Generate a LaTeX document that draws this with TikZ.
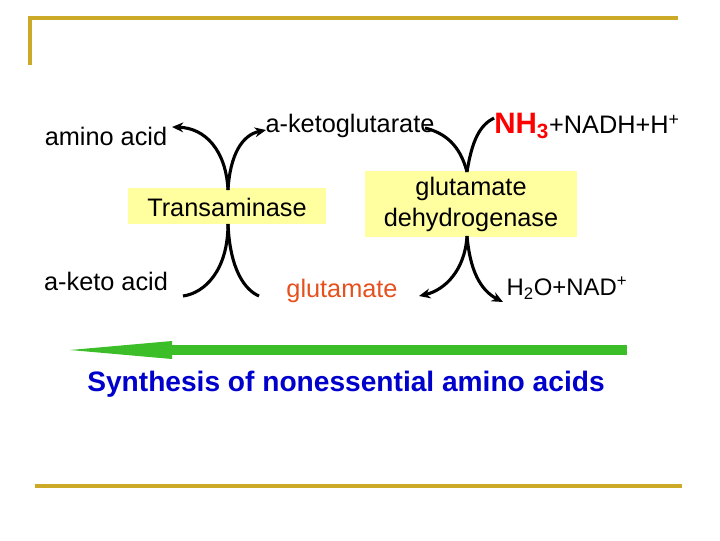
\documentclass[tikz,border=0pt]{standalone}
\usepackage{fontspec}
\setmainfont{Liberation Sans}
\usetikzlibrary{arrows.meta}
\definecolor{gold}{RGB}{204,170,40}
\definecolor{boxyellow}{RGB}{255,255,160}
\definecolor{glured}{RGB}{230,80,30}
\definecolor{arrgreen}{RGB}{60,190,40}
\begin{document}
\begin{tikzpicture}[x=0.025cm,y=-0.025cm]
	\tikzset{lbl/.style={font=\fontsize{18}{21}\selectfont},
		curve/.style={line width=2.2pt,-{Stealth[length=8pt,width=7pt]}},
		plain/.style={line width=2.2pt},
		enzyme/.style={font=\fontsize{18}{22}\selectfont,align=center}}
	\useasboundingbox (0,0) rectangle (720,540);
	% frame
	\draw[gold,line width=2.5pt] (30,65)--(30,18)--(678,18);
	\draw[gold,line width=2.5pt] (35,486)--(682,486);
	% enzymes
	\fill[boxyellow] (128,188) rectangle (326,224);
	\node[enzyme] (ta) at (227,207) {Transaminase};
	\fill[boxyellow] (365,171) rectangle (577,237);
	\node[enzyme] (gdh) at (471,204) {glutamate\\dehydrogenase};
	% metabolites
	\node[lbl] (aa) at (106,136) {amino acid};
	\node[lbl] (akg) at (350,126) {a-ketoglutarate};
	\node[lbl] (nh) at (587,126) {\textcolor{red}{\bfseries\fontsize{21}{24}\selectfont NH\textsubscript{3}}+NADH+H\textsuperscript{+}};
	\node[lbl] (ak) at (106,281) {a-keto acid};
	\node[lbl,text=glured] (glu) at (342,291) {glutamate};
	\node[lbl,font=\fontsize{17}{20}\selectfont] (h2o) at (567,288) {H\textsubscript{2}O+NAD\textsuperscript{+}};
	% junctions
	\coordinate (tt) at (228,190);
	\coordinate (tb) at (228,224);
	\coordinate (gt) at (467,172);
	\coordinate (gb) at (467,236);
	\draw[curve] (tt) .. controls (226,150) and (205,128) .. (172,127);
	\draw[curve] (tt) .. controls (230,155) and (242,135) .. (266,130);
	\draw[plain] (tb) .. controls (228,270) and (205,293) .. (183,296);
	\draw[plain] (tb) .. controls (230,270) and (245,290) .. (259,296);
	\draw[plain] (gt) .. controls (460,145) and (445,133) .. (425,128);
	\draw[plain] (gt) .. controls (472,140) and (480,125) .. (494,118);
	\draw[curve] (gb) .. controls (465,270) and (445,290) .. (419,296);
	\draw[curve] (gb) .. controls (470,270) and (480,290) .. (503,302);
	% big arrow
	\fill[arrgreen] (627,345) rectangle (172,355);
	\fill[arrgreen] (172,341)--(172,359)--(70,350)--cycle;
	\node[font=\bfseries\fontsize{20}{24}\selectfont,text=blue!80!black] (syn) at (346,384) {Synthesis of nonessential amino acids};
\end{tikzpicture}
\end{document}
